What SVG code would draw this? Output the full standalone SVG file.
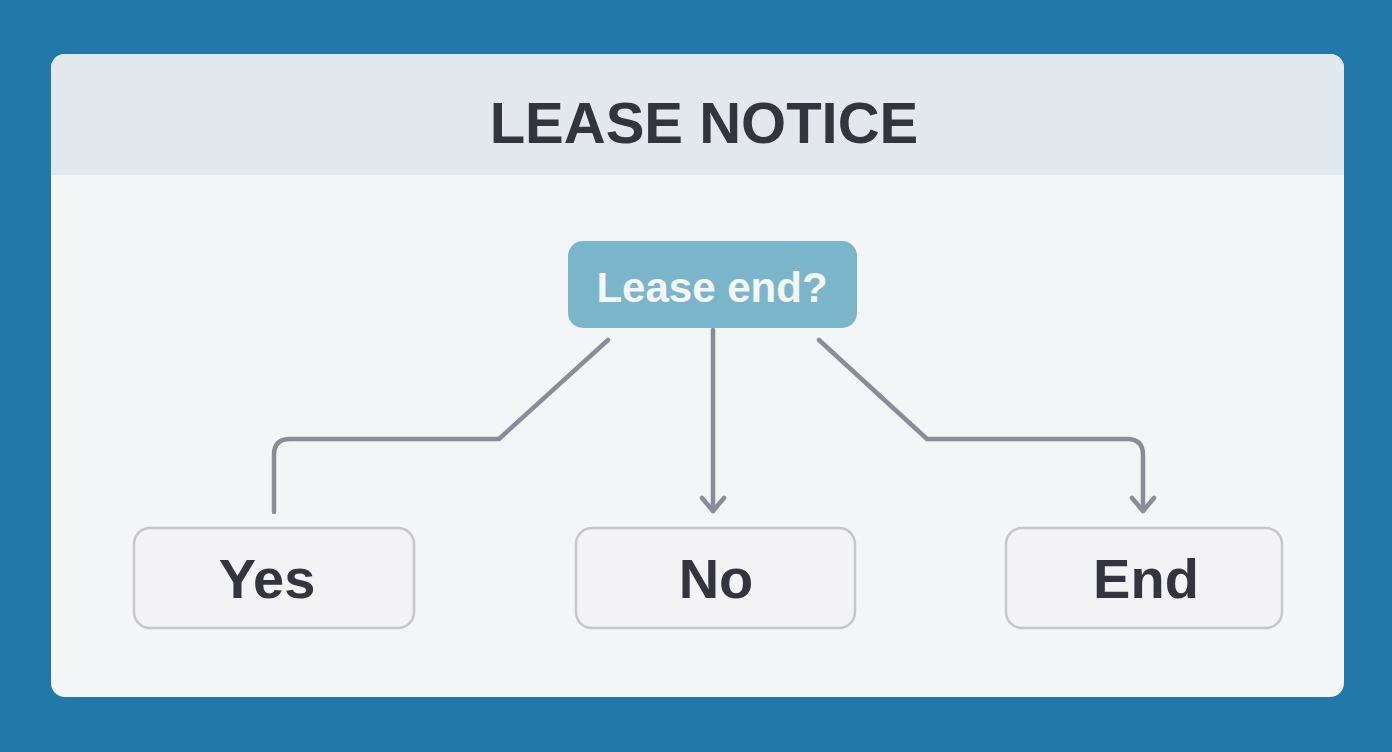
<svg xmlns="http://www.w3.org/2000/svg" width="1392" height="752" viewBox="0 0 1392 752">
<defs>
<style>
.conn{fill:none;stroke:#8a8d97;stroke-width:4.5;stroke-linecap:round;stroke-linejoin:round}
.box{fill:#f3f3f5;stroke:#c6c6ca;stroke-width:2.5}
.lbl{font-family:"Liberation Sans",Arial,sans-serif;font-weight:bold;fill:#34343e;text-anchor:middle}
</style>
</defs>
<rect x="0" y="0" width="1392" height="752" fill="#2277ab"/>
<g id="card">
<rect x="51" y="54" width="1293" height="643" rx="14" fill="#f4f5f7"/>
<path d="M51 175 V68 A14 14 0 0 1 65 54 H1330 A14 14 0 0 1 1344 68 V175 Z" fill="#e3e8ee"/>
</g>
<g id="title">
<text class="lbl" x="704" y="143" font-size="58">LEASE NOTICE</text>
</g>
<g id="connectors">
<path class="conn" d="M608 340 L499 439 H290 Q274 439 274 455 V512"/>
<path class="conn" d="M713 330 V511"/>
<path class="conn" d="M702 498 L713 511 L724 498"/>
<path class="conn" d="M819 340 L927 439 H1127 Q1143 439 1143 455 V511"/>
<path class="conn" d="M1132 498 L1143 511 L1154 498"/>
</g>
<g id="n-lease-end">
<rect x="568" y="241" width="289" height="87" rx="15" fill="#7bb5c9"/>
<text class="lbl" x="712" y="302" font-size="42" style="fill:#f4f7f8">Lease end?</text>
</g>
<g id="n-yes">
<rect class="box" x="134" y="528" width="280" height="100" rx="16"/>
<text class="lbl" x="267" y="598" font-size="56">Yes</text>
</g>
<g id="n-no">
<rect class="box" x="576" y="528" width="279" height="100" rx="16"/>
<text class="lbl" x="716" y="598" font-size="56">No</text>
</g>
<g id="n-end">
<rect class="box" x="1006" y="528" width="276" height="100" rx="16"/>
<text class="lbl" x="1146" y="598" font-size="56">End</text>
</g>
</svg>
